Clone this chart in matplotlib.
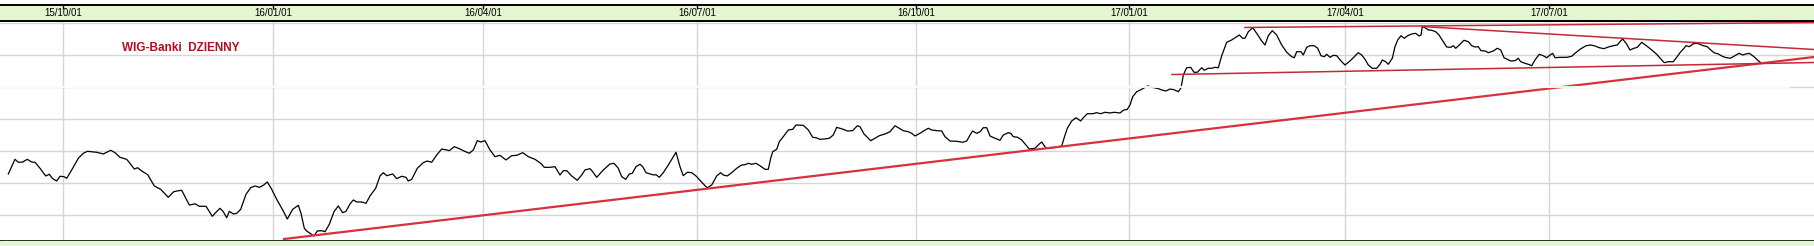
import matplotlib
matplotlib.use('Agg')
from matplotlib import pyplot as plt
from matplotlib.patches import Rectangle

# WIG-Banki daily close, x = session position on chart time axis
t = [8.3, 15, 18.3, 22.7, 27.3, 31.7, 35, 40, 45.7, 49.3, 52.7, 56.7, 60, 64, 66.7, 71.7, 78.3, 83.3, 87.3, 96.7,
     103.3, 110.7, 115, 120, 126.7, 131, 134.3, 137.7, 141.7, 147.7, 154.3, 160.7, 168.3, 173.3, 176.7, 181.7,
     189.3, 193.3, 195, 199.3, 206, 212.3, 216, 220, 223.3, 226.7, 229.3, 233.3, 236.7, 240.7, 246, 250.7, 255,
     259.3, 263.3, 267.3, 271.7, 276.7, 282.7, 287.3, 292.7, 298.3, 301, 304.3, 306.7, 310, 314, 317.3, 321.7,
     325, 329.3, 334, 338.3, 342.7, 346, 350, 353.3, 356.7, 361.7, 366, 370, 375.7, 380, 383.3, 386.7, 392.7,
     396.7, 401.7, 406, 408.3, 411.7, 417.3, 423.3, 427.3, 431.7, 436.7, 441.7, 446.7, 449.3, 454.3, 459.3, 464,
     469.3, 473.3, 477.3, 480.7, 485, 490, 495, 500, 506, 511.7, 516.7, 522.7, 528.3, 535, 540.7, 544.3, 550,
     555, 560, 563.3, 566.7, 571.7, 577.3, 581.7, 585, 590, 592.7, 596.7, 603.3, 610, 614, 618.3, 621.7, 625.7,
     629.3, 632.3, 636, 640, 642.7, 646, 650, 654, 656, 659.3, 663.3, 668.3, 676, 680, 683.3, 687.3, 691.7, 696,
     700.7, 705, 707.3, 711.7, 716.7, 720.7, 723.3, 727.3, 731.7, 736.7, 741.7, 745, 748.3, 751.7, 756, 760,
     765, 768.3, 770.7, 772.7, 776.7, 779.3, 783.3, 788.3, 792.7, 796, 803.3, 808.3, 812.7, 816, 820, 824,
     829.3, 833.3, 836.7, 840, 843.3, 847.3, 852.7, 857.3, 860, 864, 870.7, 875, 879.3, 885, 890, 895, 899.3,
     903.3, 908.3, 911.7, 915, 920, 924, 928.3, 931.7, 936.7, 941.7, 945, 950, 956.7, 962.7, 966.7, 970.7,
     972.7, 976.7, 980, 983.3, 986.7, 990, 995, 1000, 1003.3, 1008.3, 1010.7, 1013.3, 1017.7, 1021.7, 1025,
     1029.3, 1035, 1039.3, 1041.7, 1046, 1050, 1055, 1061.7, 1064, 1067.3, 1071.7, 1076, 1080.7, 1083.3, 1087.3,
     1092.7, 1096.7, 1100.7, 1105, 1110, 1114, 1120, 1123.3, 1127.3, 1130, 1132.7, 1136.7, 1141.7, 1146, 1147.7,
     1153, 1158, 1161.7, 1166, 1170, 1174, 1178.3, 1180.7, 1181.7, 1183.3, 1186.7, 1190.7, 1194, 1197.3, 1201.7,
     1204.3, 1208.3, 1211.7, 1215, 1218.3, 1221.7, 1226.7, 1231.7, 1236.7, 1239.3, 1242.7, 1245, 1248.3, 1252.7,
     1256.7, 1261.7, 1265, 1268.3, 1272.3, 1276.7, 1281.7, 1286.7, 1291.7, 1294.3, 1296.7, 1301, 1303.3, 1306.7,
     1310, 1314.3, 1317.7, 1321, 1324.3, 1326.7, 1330, 1333.3, 1336.7, 1341, 1345, 1350, 1354.3, 1358.3, 1361.7,
     1365, 1368.3, 1372.3, 1376.7, 1380, 1382.3, 1385.7, 1388.3, 1392.3, 1395, 1397.7, 1401, 1404.3, 1407.7,
     1411.7, 1415.7, 1419, 1421, 1422.3, 1425, 1428.3, 1431.7, 1435.7, 1439, 1443.3, 1446.7, 1450.7, 1453.3,
     1455.7, 1459.3, 1464, 1468.3, 1471.7, 1475, 1478.3, 1481, 1485, 1488.3, 1493.3, 1497.3, 1500.7, 1504,
     1506.7, 1510.7, 1515, 1518.3, 1520.7, 1525, 1528.3, 1531.7, 1535, 1539.3, 1543.3, 1546.7, 1550, 1552.7,
     1555, 1560, 1566.7, 1571.7, 1575, 1580, 1586, 1590.7, 1595, 1599.3, 1604, 1608.3, 1613.3, 1617.3, 1620,
     1622.7, 1626.7, 1630, 1634, 1637.3, 1641.7, 1646.7, 1651.7, 1656.7, 1661.7, 1664.3, 1668.3, 1673.3, 1676.7,
     1680, 1684, 1686, 1689.3, 1693.3, 1696.7, 1700, 1703.3, 1707.3, 1710, 1714, 1718.3, 1721.7, 1725, 1730,
     1733.3, 1736, 1739.3, 1742.7, 1746, 1749.3, 1754, 1758.3, 1760.7]
wig = [6713, 6896, 6859, 6862, 6896, 6862, 6859, 6784, 6688, 6709, 6654, 6625, 6684, 6679, 6659, 6763, 6909, 6971,
       6996, 6984, 6963, 7009, 6979, 6921, 6896, 6829, 6775, 6791, 6750, 6704, 6563, 6521, 6421, 6488, 6500, 6509,
       6325, 6334, 6341, 6309, 6309, 6184, 6234, 6284, 6241, 6166, 6246, 6213, 6221, 6271, 6459, 6541, 6563, 6546,
       6571, 6613, 6521, 6396, 6263, 6150, 6271, 6321, 6221, 6034, 6000, 5971, 5938, 6000, 6004, 5991, 6084, 6241,
       6313, 6229, 6246, 6338, 6388, 6363, 6363, 6346, 6438, 6534, 6688, 6729, 6691, 6713, 6654, 6684, 6671, 6625,
       6646, 6784, 6854, 6875, 6859, 6950, 7025, 7013, 7004, 7054, 7029, 7000, 6971, 7013, 7129, 7113, 7129, 7013,
       6929, 6946, 6888, 6941, 6946, 6979, 6929, 6896, 6846, 6796, 6796, 6804, 6700, 6754, 6754, 6688, 6634, 6700,
       6763, 6779, 6741, 6671, 6763, 6838, 6846, 6784, 6679, 6646, 6713, 6721, 6804, 6834, 6804, 6729, 6713, 6700,
       6704, 6671, 6729, 6825, 6984, 6804, 6691, 6734, 6729, 6688, 6625, 6566, 6541, 6575, 6688, 6729, 6700, 6688,
       6729, 6784, 6825, 6829, 6846, 6834, 6846, 6816, 6771, 6771, 6909, 6991, 7021, 7116, 7179, 7263, 7271, 7325,
       7321, 7263, 7171, 7166, 7146, 7150, 7159, 7200, 7296, 7284, 7271, 7250, 7254, 7316, 7304, 7213, 7129, 7159,
       7191, 7213, 7241, 7316, 7284, 7254, 7241, 7221, 7188, 7221, 7254, 7284, 7263, 7254, 7250, 7179, 7125, 7121,
       7109, 7125, 7213, 7250, 7221, 7241, 7291, 7291, 7188, 7159, 7134, 7200, 7229, 7221, 7179, 7171, 7138, 7088,
       7025, 7034, 7088, 7113, 7034, 7034, 7046, 7062, 7159, 7284, 7375, 7416, 7375, 7416, 7466, 7466, 7479, 7466,
       7484, 7475, 7484, 7475, 7509, 7521, 7575, 7679, 7741, 7771, 7804, 7813, 7794, 7781, 7763, 7750, 7775, 7766,
       7741, 7784, 7834, 7950, 8041, 8046, 7984, 7984, 8041, 8009, 8034, 8034, 8046, 8041, 8191, 8359, 8388, 8429,
       8450, 8409, 8409, 8491, 8541, 8471, 8375, 8325, 8441, 8504, 8450, 8325, 8234, 8179, 8166, 8241, 8241, 8200,
       8296, 8316, 8316, 8284, 8191, 8179, 8209, 8171, 8196, 8191, 8125, 8075, 8125, 8179, 8229, 8200, 8146, 8075,
       8034, 8034, 8084, 8138, 8116, 8084, 8159, 8304, 8388, 8441, 8409, 8441, 8463, 8471, 8438, 8450, 8554, 8541,
       8513, 8509, 8491, 8450, 8366, 8300, 8296, 8316, 8284, 8325, 8384, 8366, 8316, 8300, 8304, 8254, 8250, 8229,
       8250, 8284, 8263, 8166, 8150, 8125, 8129, 8159, 8116, 8096, 8084, 8066, 8138, 8209, 8191, 8166, 8200, 8221,
       8166, 8171, 8171, 8184, 8221, 8271, 8316, 8325, 8313, 8291, 8279, 8300, 8316, 8325, 8366, 8400, 8334, 8263,
       8284, 8296, 8359, 8313, 8263, 8209, 8138, 8104, 8116, 8116, 8171, 8229, 8284, 8316, 8304, 8341, 8346, 8334,
       8316, 8304, 8271, 8229, 8213, 8188, 8171, 8159, 8179, 8200, 8221, 8200, 8213, 8221, 8179, 8129, 8104]

# trend lines drawn by hand on the chart: (t0, v0, t1, v1)
trend_main = [284, 5900, 1814, 8175]
trend_top = [1245, 8544, 1814, 8606]
trend_down = [1422, 8556, 1814, 8269]
trend_channel = [1172, 7956, 1814, 8106]

tick_pos = [63, 273, 483, 697, 916, 1129, 1345, 1549]
tick_lab = ['15/10/01', '16/01/01', '16/04/01', '16/07/01', '16/10/01', '17/01/01', '17/04/01', '17/07/01']
grid_vals = [6200, 6600, 7000, 7400, 7800, 8200, 8600]

GREEN = '#e3f6cf'
H = 246.0
FONT = ['Liberation Sans', 'DejaVu Sans']

fig = plt.figure(figsize=(18.14, 2.46), dpi=100, facecolor='white')
fig.patches.append(Rectangle((0, 0), 1, 5 / H, transform=fig.transFigure, color=GREEN, zorder=0))

ax = fig.add_axes([0, 5 / H, 1, 220 / H])
ax.set_xlim(0, 1814)
ax.set_ylim(5875, 8625)
for s in ['left', 'right']:
    ax.spines[s].set_visible(False)
ax.spines['bottom'].set_linewidth(1.4)
ax.spines['top'].set_linewidth(1.4)
ax.set_xticks(tick_pos)
ax.set_yticks(grid_vals)
ax.tick_params(left=False, bottom=False, labelleft=False, labelbottom=False)
ax.grid(True, color='#d6d6d6', linewidth=1.0)
ax.set_axisbelow(True)

ax.plot(t, wig, color='black', linewidth=0.9, zorder=3)

ax.plot(trend_main[0::2], trend_main[1::2], color='#d5323d', linewidth=1.6, zorder=4)
for tr in [trend_top, trend_down, trend_channel]:
    ax.plot(tr[0::2], tr[1::2], color='#c42a36', linewidth=1.1, zorder=4)

# the 7800 gridline is painted white over the data
ax.hlines(7800, 0, 1790, color='white', linewidth=1.5, alpha=0.9, zorder=6)

ax.text(181, 8290, 'WIG-Banki  DZIENNY', color='#b00f1c', fontsize=8.5, fontweight='bold',
        family=FONT, ha='center', va='center')

# top date band
band = fig.add_axes([0, 225.5 / H, 1, 16 / H], sharex=ax, facecolor=GREEN)
band.set_ylim(0, 1)
for s in ['left', 'right']:
    band.spines[s].set_visible(False)
band.spines['top'].set_linewidth(1.4)
band.spines['bottom'].set_linewidth(1.4)
band.set_yticks([])
band.tick_params(axis='x', top=True, bottom=False, direction='in', length=3, width=1,
                 labeltop=False, labelbottom=False)
for p, lab in zip(tick_pos, tick_lab):
    band.text(p, 0.45, lab, ha='center', va='center', fontsize=7, family=FONT)

fig.savefig('out.png', dpi=100, facecolor='white')
